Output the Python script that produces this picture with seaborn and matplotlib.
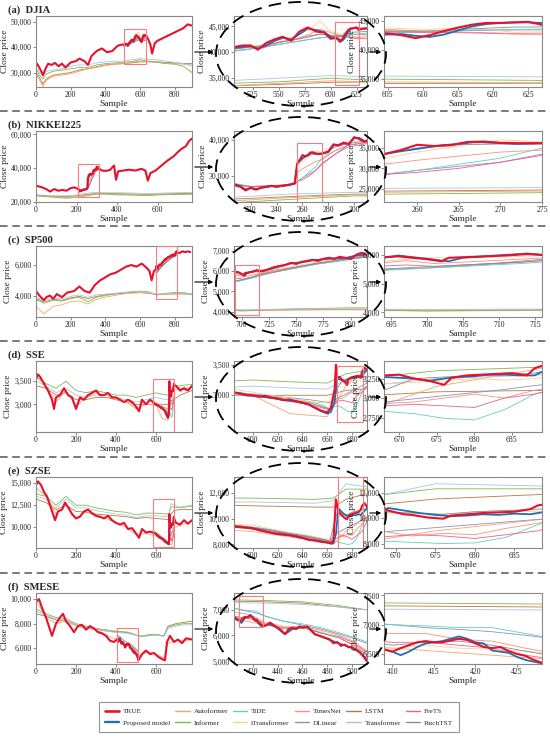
import matplotlib.pyplot as plt
import matplotlib.patches as mpatches
from matplotlib.lines import Line2D
from matplotlib.ticker import FuncFormatter
import seaborn as sns
import pandas as pd

sns.set_style('ticks')
plt.rcParams['font.family'] = 'serif'
plt.rcParams['font.serif'] = ['Liberation Serif', 'DejaVu Serif']

# ---------------- DATA ----------------
# (a) DJIA
dj_tx = [0, 15, 30, 40, 55, 70, 90, 110, 130, 150, 170, 200, 230, 250, 280, 300, 320, 350, 380, 410,
         440, 470, 490, 507, 515, 523, 530, 538, 546, 554, 562, 570, 578, 586, 594, 600, 605, 607, 609, 611,
         613, 615, 617, 619, 621, 623, 625, 627, 631, 635, 645, 660, 670, 685, 700, 730, 760, 790, 820, 850,
         875, 900]
dj_true = [34000, 32500, 30500, 29000, 31500, 33500, 33000, 33800, 32500, 33500, 32000, 34000, 34500, 35500, 34500, 33000, 36500, 38500, 39500, 38000,
           38500, 40500, 41000, 41000, 41300, 41300, 40500, 41800, 42500, 43000, 42200, 44000, 44800, 44000, 43800, 42600, 42800, 42500, 42000, 42500,
           43200, 43800, 44300, 44600, 44600, 44700, 44800, 44300, 44600, 44600, 43500, 41000, 37500, 41500, 42500, 43500, 44500, 45500, 46500, 47500,
           49000, 48500]
dj_zx = [507, 515, 523, 530, 538, 546, 554, 562, 570, 578, 586, 594, 600, 605, 607, 609, 611, 613, 615, 617, 619, 621, 623, 625, 627, 631, 635]
dj_prop = [40800, 41000, 41200, 40700, 41300, 42200, 42800, 42500, 43500, 44600, 44300, 43900, 43000, 42600, 42700, 42400, 42200, 42600, 43300, 44000,
           44400, 44600, 44700, 44700, 44600, 44500, 44600]
dj_nx = [507, 520, 535, 550, 565, 580, 590, 600, 610, 617, 623, 635]
dj_tide = [40200, 40500, 41000, 41500, 42000, 42500, 42800, 43000, 43000, 43400, 43500, 43700]
dj_itrans = [41000, 41500, 41200, 42500, 43000, 44500, 46000, 44000, 43500, 43800, 43000, 43300]
dj_timesnet = [40800, 41000, 40800, 41800, 42500, 43500, 44500, 43800, 43200, 43000, 42800, 43000]
dj_dlinear = [40300, 40600, 41000, 41500, 42000, 42500, 42800, 43000, 43100, 43300, 43400, 43500]
dj_frets = [41000, 41200, 41000, 42000, 42400, 43000, 43500, 43200, 43000, 42900, 42700, 42600]
dj_patch = [40600, 40900, 41300, 41900, 42400, 43200, 43500, 43300, 43200, 43600, 43900, 44000]
dj_fx = [0, 20, 40, 60, 100, 150, 200, 250, 300, 350, 400, 450, 500, 550, 600, 650, 700, 750, 800, 850, 900]
dj_informer = [31500, 29000, 27500, 29500, 30500, 31000, 31500, 32000, 32000, 33000, 33500, 33800, 34000, 34300, 35000, 34500, 34000, 33500, 33300, 32500, 30000]
dj_transformer = [32000, 30000, 28500, 30500, 31000, 31500, 32500, 33000, 33000, 33800, 34200, 34500, 34500, 35000, 35500, 35200, 35000, 34500, 34000, 33500, 32500]
dj_autoformer = [29500, 27000, 24500, 27000, 28500, 29000, 29500, 30500, 31500, 32000, 32800, 33300, 33500, 34000, 34500, 34200, 34000, 33700, 33500, 33300, 33000]
dj_lstm = [30000, 28000, 25500, 27500, 29000, 29500, 30000, 31000, 31500, 32300, 33000, 33300, 33500, 33800, 34200, 34300, 34200, 34000, 33800, 33600, 33500]

# (b) NIKKEI225
nk_tx = [0, 15, 30, 50, 70, 90, 110, 130, 150, 170, 190, 207, 212, 216, 220, 224, 228, 232, 236, 240,
         244, 248, 252, 254, 256, 258, 260, 262, 264, 266, 268, 270, 272, 275, 280, 284, 288, 292, 296, 300,
         304, 308, 310, 325, 345, 365, 385, 395, 405, 430, 460, 490, 520, 540, 552, 565, 590, 620, 650, 680,
         700, 720, 740, 755, 770]
nk_true = [29500, 29000, 28500, 27500, 26000, 27500, 26500, 27000, 26500, 28000, 28500, 27500, 27000, 26000, 26800, 26200, 26800, 27000, 27300, 27000,
           27300, 27500, 27800, 28000, 33500, 34500, 35800, 35500, 35700, 36500, 36600, 36300, 36200, 36200, 36800, 38800, 38500, 39300, 38800, 40800,
           40300, 39500, 39800, 38500, 38300, 38800, 41500, 33000, 38000, 38500, 39000, 38500, 39500, 38500, 32500, 37000, 38500, 41500, 44500, 47000,
           49500, 51500, 53000, 56000, 57500]
nk_zx = [207, 212, 216, 220, 224, 228, 232, 236, 240, 244, 248, 252, 254, 256, 258, 260, 263, 265, 267, 269, 272, 275, 280, 284, 288, 292, 296, 300, 304, 308, 310]
nk_prop = [27800, 27200, 26300, 26600, 26400, 26700, 27000, 27200, 27100, 27200, 27400, 27700, 27900, 33500, 34200, 34800, 35700, 36000, 36500, 36300,
           36000, 36200, 36600, 38500, 38700, 39100, 39000, 40500, 40600, 39700, 39800]
nk_nx = [207, 220, 235, 250, 254, 256, 260, 265, 270, 275, 285, 295, 310]
nk_tide = [27800, 27000, 27200, 27500, 27800, 28500, 29500, 31000, 32500, 35000, 37000, 38500, 39500]
nk_itrans = [28000, 27200, 27400, 27700, 28000, 32500, 34000, 35500, 37000, 36500, 38000, 39500, 40000]
nk_timesnet = [27900, 27100, 27300, 27600, 27900, 31000, 32000, 33000, 34000, 34500, 37000, 38500, 39500]
nk_dlinear = [27700, 27000, 27200, 27500, 27700, 28500, 29500, 30500, 31500, 33500, 36000, 38000, 39000]
nk_frets = [27800, 27000, 27200, 27500, 27800, 28500, 29000, 30000, 31500, 33200, 36000, 38500, 39300]
nk_patch = [27800, 27100, 27300, 27600, 27900, 33500, 35000, 35800, 36000, 36000, 38000, 39000, 39800]
nk_fx = [0, 50, 100, 150, 200, 250, 300, 350, 400, 450, 500, 550, 600, 650, 700, 770]
nk_informer = [23500, 23000, 22500, 22000, 22500, 23500, 24500, 24500, 24000, 24000, 23800, 23500, 24000, 24200, 24300, 24500]
nk_transformer = [24000, 23800, 23500, 23500, 24000, 25000, 25500, 25300, 25300, 25200, 25000, 24800, 25000, 25200, 25300, 25500]
nk_autoformer = [23500, 23000, 22800, 22500, 23000, 24000, 24800, 24500, 24500, 24300, 24000, 24000, 24200, 24300, 24400, 24500]
nk_lstm = [24000, 23500, 23200, 23000, 23500, 24300, 25000, 24800, 24800, 24600, 24500, 24300, 24500, 24600, 24800, 25000]

# (c) SP500
sp_tx = [0, 20, 45, 60, 80, 100, 120, 150, 180, 220, 250, 280, 310, 340, 370, 400, 430, 460, 490, 520,
         550, 580, 610, 640, 655, 667, 680, 690, 693, 694, 696, 698, 700, 702, 703, 705, 708, 711, 714, 716,
         720, 725, 730, 735, 740, 745, 750, 755, 760, 765, 770, 775, 780, 785, 790, 795, 800, 805, 810, 815,
         830, 845, 860, 875, 890]
sp_true = [4300, 4000, 3700, 3900, 4000, 3800, 4100, 3900, 4200, 4300, 4600, 4300, 4200, 4700, 5000, 5200, 5400, 5500, 5700, 5900,
           6000, 5900, 6100, 5800, 5600, 5000, 5600, 5700, 5800, 5920, 5950, 5900, 5850, 5780, 5900, 5920, 5950, 5980, 6030, 6000,
           6000, 6100, 6200, 6250, 6300, 6400, 6350, 6450, 6500, 6550, 6500, 6600, 6650, 6600, 6700, 6650, 6600, 6800, 6900, 6800,
           6800, 6900, 6850, 6900, 6850]
sp_zx = [693, 694, 696, 698, 700, 702, 703, 705, 708, 711, 714, 716, 725, 735, 745, 755, 765, 775, 785, 795, 805, 815]
sp_prop = [5750, 5900, 5980, 5920, 5870, 5800, 5780, 5900, 5950, 6000, 6050, 6000, 6080, 6230, 6380, 6430, 6530, 6580, 6620, 6640, 6760, 6820]
sp_nx = [693, 697, 701, 705, 709, 713, 716, 730, 750, 770, 790, 815]
sp_tide = [5450, 5500, 5550, 5600, 5650, 5700, 5750, 5950, 6150, 6350, 6500, 6700]
sp_itrans = [5750, 5850, 5900, 5900, 5920, 5950, 5980, 6100, 6250, 6450, 6600, 6750]
sp_timesnet = [5700, 5800, 5700, 5750, 5800, 5850, 5900, 6050, 6200, 6400, 6550, 6750]
sp_dlinear = [5480, 5520, 5560, 5620, 5680, 5740, 5800, 5950, 6150, 6350, 6500, 6700]
sp_frets = [5600, 5650, 5600, 5650, 5700, 5750, 5800, 5950, 6200, 6400, 6550, 6700]
sp_patch = [5500, 5550, 5600, 5650, 5700, 5780, 5850, 6000, 6200, 6380, 6550, 6750]
sp_fx = [0, 45, 100, 150, 200, 250, 300, 350, 400, 450, 500, 550, 600, 650, 700, 750, 800, 850, 900]
sp_informer = [3750, 3500, 3700, 3650, 3800, 3900, 3600, 3900, 4000, 4100, 4200, 4250, 4300, 4250, 4050, 4150, 4200, 4200, 4100]
sp_transformer = [3900, 3700, 3850, 3800, 3950, 4050, 3900, 4050, 4100, 4150, 4200, 4250, 4250, 4200, 4100, 4150, 4150, 4150, 4100]
sp_autoformer = [3300, 2800, 3300, 3400, 3600, 3650, 3450, 3750, 3900, 4000, 4100, 4150, 4200, 4150, 4050, 4100, 4100, 4100, 4050]
sp_lstm = [3800, 3600, 3750, 3700, 3850, 3950, 3800, 3950, 4050, 4100, 4150, 4200, 4200, 4150, 4080, 4100, 4120, 4120, 4100]

# (d) SSE
se_tx = [0, 10, 20, 40, 60, 80, 90, 100, 120, 140, 160, 180, 200, 220, 240, 260, 280, 300, 320, 340,
         360, 380, 400, 420, 440, 460, 480, 500, 515, 530, 550, 570, 585, 590, 595, 600, 605, 610, 615, 620,
         625, 630, 635, 640, 645, 650, 655, 660, 663, 666, 667, 668, 670, 672, 674, 676, 677, 679, 681, 683,
         685, 687, 688, 690, 692, 700, 720, 740, 760, 780]
se_true = [3550, 3650, 3600, 3450, 3300, 3100, 2900, 3150, 3200, 3350, 3200, 3150, 2900, 3150, 3100, 3200, 3250, 3300, 3200, 3200,
           3250, 3150, 3150, 3100, 3050, 3100, 3050, 2950, 2850, 3100, 3000, 3100, 3050, 3030, 3000, 3000, 2980, 2990, 2960, 2950,
           2920, 2930, 2900, 2880, 2850, 2800, 2750, 2720, 2800, 3100, 3500, 3290, 3300, 3250, 3220, 3170, 3260, 3290, 3300, 3310,
           3320, 3290, 3380, 3450, 3420, 3400, 3300, 3350, 3300, 3400]
se_zx = [585, 595, 605, 615, 625, 635, 645, 655, 660, 663, 666, 668, 670, 672, 674, 676, 678, 680, 682, 684, 686, 688, 690, 692]
se_prop = [3040, 3000, 2980, 2960, 2920, 2900, 2850, 2740, 2700, 2730, 2900, 3270, 3260, 3250, 3220, 3250, 3270, 3280, 3300, 3300, 3290, 3290, 3380, 3420]
se_nx = [585, 600, 615, 630, 645, 655, 662, 668, 672, 676, 680, 684, 688, 692]
se_tide = [3050, 3000, 2980, 2950, 2900, 2850, 2780, 2830, 2800, 2740, 2720, 2850, 3050, 3150]
se_itrans = [3100, 3050, 3000, 2950, 2900, 2880, 2900, 3180, 3200, 3220, 3250, 3230, 3250, 3300]
se_timesnet = [3040, 3000, 2950, 2920, 2880, 2820, 2780, 2930, 2950, 3000, 3050, 3000, 3100, 3150]
se_dlinear = [3050, 3020, 2990, 2960, 2930, 2900, 2880, 2950, 2990, 3030, 3070, 3110, 3160, 3200]
se_frets = [3030, 2990, 2950, 2900, 2850, 2800, 2760, 2900, 2920, 2900, 2880, 3000, 3050, 3150]
se_patch = [3050, 3010, 2970, 2930, 2880, 2820, 2770, 3100, 3250, 3270, 3290, 3300, 3320, 3400]
se_fx = [0, 50, 100, 150, 200, 250, 300, 350, 400, 450, 500, 550, 600, 630, 660, 675, 690, 720, 750, 780]
se_informer = [3600, 3450, 3350, 3500, 3300, 3250, 3300, 3250, 3200, 3200, 3150, 3200, 3250, 3220, 3200, 3350, 3400, 3400, 3420, 3430]
se_transformer = [3500, 3400, 3250, 3350, 3200, 3150, 3200, 3200, 3150, 3100, 3050, 3100, 3150, 3120, 3100, 3250, 3300, 3350, 3350, 3380]
se_autoformer = [3600, 3400, 3050, 3300, 2950, 3150, 3250, 3200, 3100, 3050, 2900, 3000, 3000, 2700, 2650, 3150, 3400, 3350, 3300, 3400]
se_lstm = [3400, 3350, 3200, 3250, 3100, 3100, 3150, 3150, 3100, 3050, 3000, 3000, 3000, 3000, 3000, 3080, 3100, 3200, 3250, 3300]

# (e) SZSE
sz_tx = [0, 10, 25, 40, 55, 70, 85, 95, 110, 130, 145, 160, 180, 200, 220, 240, 260, 280, 300, 320,
         340, 360, 380, 400, 420, 440, 460, 480, 500, 515, 530, 550, 570, 585, 590, 595, 600, 605, 610, 615,
         620, 625, 630, 635, 640, 645, 650, 655, 660, 663, 665, 667, 669, 670, 671, 672, 674, 676, 677, 679,
         681, 683, 685, 687, 688, 690, 692, 700, 720, 740, 760, 780]
sz_true = [14800, 15200, 14800, 14000, 13500, 12500, 11500, 10800, 11800, 12000, 12800, 12300, 11500, 11000, 11200, 11800, 12000, 11600, 11300, 11200,
           11000, 11300, 10800, 10500, 10300, 10500, 9800, 9900, 9300, 8800, 9800, 9400, 9500, 9400, 9350, 9300, 9250, 9100, 9000, 8900,
           8800, 8750, 8700, 8600, 8500, 8350, 8300, 8200, 8150, 8100, 8300, 11500, 10600, 10450, 10300, 10250, 10050, 9950, 10200, 10300,
           10400, 10450, 10500, 10700, 11000, 11200, 10900, 10500, 10300, 10800, 10400, 10800]
sz_zx = [585, 595, 605, 615, 625, 635, 645, 655, 660, 663, 665, 667, 669, 671, 673, 675, 677, 679, 681, 683, 685, 687, 688, 690, 692]
sz_prop = [9350, 9300, 9150, 8900, 8800, 8650, 8400, 8250, 8150, 8050, 8100, 8800, 10800, 10600, 10400, 10250, 10150, 10200, 10300, 10250,
           10350, 10300, 10400, 10600, 10800]
sz_nx = [585, 600, 615, 630, 645, 655, 662, 668, 672, 676, 680, 684, 688, 692]
sz_tide = [9500, 9300, 9100, 8850, 8600, 8400, 8250, 8200, 8100, 8000, 8050, 8500, 9500, 10000]
sz_itrans = [9600, 9500, 9200, 8900, 8700, 8500, 8400, 10300, 10400, 10300, 10500, 10600, 10500, 10700]
sz_timesnet = [9400, 9250, 9000, 8800, 8500, 8300, 8200, 9000, 8600, 8800, 8700, 9200, 9600, 10200]
sz_dlinear = [9500, 9350, 9150, 8900, 8650, 8450, 8300, 8900, 9100, 9300, 9500, 9700, 9900, 10100]
sz_frets = [9450, 9300, 9050, 8800, 8550, 8350, 8200, 8500, 8700, 8600, 8400, 8700, 9000, 9800]
sz_patch = [9500, 9300, 9100, 8850, 8600, 8400, 8250, 10500, 10400, 10300, 10500, 10600, 10700, 10800]
sz_fx = [0, 50, 100, 150, 200, 250, 300, 350, 400, 450, 500, 550, 600, 650, 665, 675, 690, 720, 750, 780]
sz_informer = [13800, 13500, 12500, 13500, 12500, 12500, 12200, 12000, 11800, 11700, 11400, 11600, 11600, 11500, 11600, 12300, 12300, 12200, 12300, 12400]
sz_transformer = [13500, 13200, 12200, 13200, 12200, 12200, 11900, 11700, 11500, 11400, 11100, 11300, 11300, 11200, 11400, 12700, 12500, 12300, 12400, 12500]
sz_autoformer = [14500, 13500, 11500, 12500, 11000, 11800, 11200, 11000, 10500, 10000, 9200, 9300, 9000, 8300, 8000, 9000, 10000, 10200, 10500, 10700]
sz_lstm = [13200, 12800, 12000, 12500, 11800, 11700, 11500, 11400, 11300, 11200, 11000, 11100, 11000, 10900, 10900, 11500, 11900, 12000, 12000, 12000]

# (f) SMESE
sm_tx = [0, 15, 30, 50, 70, 80, 100, 120, 135, 150, 170, 190, 210, 230, 250, 270, 290, 310, 330, 350,
         370, 390, 405, 409, 410, 411, 412, 413, 414, 415, 416, 417, 418, 419, 420, 421, 422, 423, 424, 425,
         426, 427, 428, 431, 434, 437, 440, 443, 446, 449, 452, 455, 458, 461, 464, 467, 470, 473, 476, 479,
         482, 485, 488, 491, 494, 497, 500, 503, 506, 509, 512, 530, 550, 570, 590, 610, 630, 645, 655, 670,
         690, 710, 730, 750, 780]
sm_true = [9800, 10000, 9300, 8500, 7500, 7000, 8000, 8500, 8800, 8200, 7800, 7300, 7800, 7900, 7500, 7800, 7600, 7300, 7200, 7000,
           6600, 6500, 6700, 6580, 6540, 6600, 6650, 6700, 6720, 6700, 6700, 6730, 6760, 6740, 6680, 6620, 6600, 6620, 6550, 6500,
           6470, 6400, 6350, 6400, 6500, 6400, 6300, 6200, 6050, 6250, 6300, 6250, 6350, 6300, 6350, 6200, 6050, 6000, 5950, 5900,
           5850, 5700, 5750, 5600, 5650, 5550, 5550, 5450, 5350, 5200, 5000, 5500, 5800, 5500, 5600, 5300, 5100, 5000, 6500, 7000,
           6500, 6700, 6400, 6800, 6700]
sm_zx = [405, 409, 410, 411, 412, 413, 414, 415, 416, 417, 418, 419, 420, 421, 422, 423, 424, 425, 426, 427,
         428, 434, 440, 446, 452, 458, 464, 470, 476, 482, 488, 494, 500, 506, 512]
sm_prop = [6650, 6580, 6540, 6480, 6540, 6620, 6680, 6700, 6720, 6760, 6800, 6760, 6700, 6680, 6560, 6540, 6520, 6450, 6400, 6370,
           6340, 6450, 6280, 6050, 6250, 6300, 6330, 6050, 5950, 5830, 5720, 5620, 5520, 5380, 5050]
sm_nx = [405, 410, 414, 418, 422, 426, 430, 445, 460, 475, 490, 500, 512]
sm_tide = [7050, 7000, 6980, 6950, 6950, 6850, 6750, 6550, 6450, 6300, 6100, 5950, 5750]
sm_itrans = [6700, 6600, 6650, 6600, 6580, 6550, 6500, 6350, 6300, 6150, 5900, 5700, 5300]
sm_timesnet = [6900, 6850, 6850, 6750, 6720, 6600, 6500, 6350, 6350, 6200, 6000, 5800, 5400]
sm_dlinear = [7050, 7000, 6950, 6920, 6880, 6820, 6750, 6550, 6400, 6250, 6050, 5900, 5700]
sm_frets = [6750, 6700, 6700, 6650, 6600, 6480, 6400, 6300, 6300, 6100, 5950, 5750, 5350]
sm_patch = [6750, 6650, 6700, 6720, 6650, 6550, 6450, 6250, 6350, 6100, 5900, 5650, 5250]
sm_fx = [0, 50, 100, 150, 200, 250, 300, 350, 400, 430, 460, 490, 510, 530, 560, 600, 640, 660, 700, 740, 780]
sm_informer = [9200, 8800, 8500, 8400, 8000, 7800, 7600, 7500, 7380, 7350, 7300, 7150, 7000, 7000, 7100, 7100, 7000, 7700, 7900, 8000, 8000]
sm_transformer = [9000, 8700, 8400, 8300, 7900, 7700, 7500, 7400, 7270, 7250, 7200, 7100, 7000, 6950, 7050, 7050, 6950, 7600, 7800, 7900, 7900]
sm_autoformer = [9900, 8500, 8000, 8200, 7800, 7600, 7500, 7100, 6700, 6400, 6300, 5900, 5400, 5500, 5700, 5500, 5200, 6400, 6600, 6600, 6700]
sm_lstm = [8800, 8600, 8300, 8200, 7900, 7700, 7550, 7400, 7330, 7300, 7250, 7100, 7000, 6950, 7000, 7100, 7000, 7800, 8000, 8100, 8200]

MODELS = ['TRUE', 'Proposed model', 'Autoformer', 'Informer', 'TiDE', 'iTransformer',
          'TimesNet', 'DLinear', 'LSTM', 'Transformer', 'FreTS', 'PatchTST']
COLORS = {'TRUE': '#e8112d', 'Proposed model': '#1f6fb0', 'Autoformer': '#fca36a',
          'Informer': '#7cba50', 'TiDE': '#5fd3b5', 'iTransformer': '#fdcf8a',
          'TimesNet': '#f8927a', 'DLinear': '#8d8dc8', 'LSTM': '#b87a3f',
          'Transformer': '#a9c4e6', 'FreTS': '#f55c8a', 'PatchTST': '#8c8c8c'}
LW = {m: 0.6 for m in MODELS}
LW['TRUE'] = 1.5
LW['Proposed model'] = 1.3
DRAW_ORDER = ['LSTM', 'Autoformer', 'Informer', 'Transformer', 'DLinear', 'TiDE', 'TimesNet',
              'FreTS', 'iTransformer', 'PatchTST', 'Proposed model', 'TRUE']


def frame(tx, true, zx, prop, nx, near, fx, far):
    parts = [('TRUE', tx, true), ('Proposed model', zx, prop)]
    parts += [(m, nx, v) for m, v in near.items()]
    parts += [(m, fx, v) for m, v in far.items()]
    rows = []
    for m, xs, ys in parts:
        rows += [(m, a, b) for a, b in zip(xs, ys)]
    return pd.DataFrame(rows, columns=['model', 'sample', 'price'])


datasets = [
    ('(a)  DJIA', frame(dj_tx, dj_true, dj_zx, dj_prop, dj_nx,
                        {'TiDE': dj_tide, 'iTransformer': dj_itrans, 'TimesNet': dj_timesnet,
                         'DLinear': dj_dlinear, 'FreTS': dj_frets, 'PatchTST': dj_patch},
                        dj_fx, {'Informer': dj_informer, 'Transformer': dj_transformer,
                                'Autoformer': dj_autoformer, 'LSTM': dj_lstm}),
     [((0, 900), range(0, 801, 200), (24300, 52300), [30000, 40000, 50000]),
      ((507, 635), range(525, 626, 25), (33300, 47000), [35000, 40000, 45000]),
      ((604.5, 627), range(605, 626, 5), (33600, 45800), [35000, 40000, 45000])]),
    ('(b)  NIKKEI225', frame(nk_tx, nk_true, nk_zx, nk_prop, nk_nx,
                             {'TiDE': nk_tide, 'iTransformer': nk_itrans, 'TimesNet': nk_timesnet,
                              'DLinear': nk_dlinear, 'FreTS': nk_frets, 'PatchTST': nk_patch},
                             nk_fx, {'Informer': nk_informer, 'Transformer': nk_transformer,
                                     'Autoformer': nk_autoformer, 'LSTM': nk_lstm}),
     [((0, 770), range(0, 601, 200), (19800, 62000), [20000, 40000, 60000]),
      ((207, 310), range(220, 301, 20), (22800, 42500), [30000, 40000]),
      ((256, 275), range(260, 276, 5), (21700, 39200), [25000, 30000, 35000])]),
    ('(c)  SP500', frame(sp_tx, sp_true, sp_zx, sp_prop, sp_nx,
                         {'TiDE': sp_tide, 'iTransformer': sp_itrans, 'TimesNet': sp_timesnet,
                          'DLinear': sp_dlinear, 'FreTS': sp_frets, 'PatchTST': sp_patch},
                         sp_fx, {'Informer': sp_informer, 'Transformer': sp_transformer,
                                 'Autoformer': sp_autoformer, 'LSTM': sp_lstm}),
     [((0, 900), range(0, 801, 200), (2600, 7250), [4000, 6000]),
      ((693, 815), range(700, 801, 25), (3750, 7230), [4000, 5000, 6000, 7000]),
      ((694, 716), range(695, 716, 5), (3840, 6310), [4000, 5000, 6000])]),
    ('(d)  SSE', frame(se_tx, se_true, se_zx, se_prop, se_nx,
                       {'TiDE': se_tide, 'iTransformer': se_itrans, 'TimesNet': se_timesnet,
                        'DLinear': se_dlinear, 'FreTS': se_frets, 'PatchTST': se_patch},
                       se_fx, {'Informer': se_informer, 'Transformer': se_transformer,
                               'Autoformer': se_autoformer, 'LSTM': se_lstm}),
     [((0, 780), range(0, 601, 200), (2400, 3940), [3000, 3500]),
      ((585, 692), range(600, 681, 20), (2400, 3560), [3000, 3500]),
      ((668, 689), range(670, 686, 5), (2565, 3475), [2750, 3000, 3250])]),
    ('(e)  SZSE', frame(sz_tx, sz_true, sz_zx, sz_prop, sz_nx,
                        {'TiDE': sz_tide, 'iTransformer': sz_itrans, 'TimesNet': sz_timesnet,
                         'DLinear': sz_dlinear, 'FreTS': sz_frets, 'PatchTST': sz_patch},
                        sz_fx, {'Informer': sz_informer, 'Transformer': sz_transformer,
                                'Autoformer': sz_autoformer, 'LSTM': sz_lstm}),
     [((0, 780), range(0, 601, 200), (7650, 15700), [10000, 12500, 15000]),
      ((585, 692), range(600, 681, 20), (7720, 13240), [8000, 10000, 12000]),
      ((668.5, 688.5), range(670, 686, 5), (7650, 13230), [8000, 10000, 12000])]),
    ('(f)  SMESE', frame(sm_tx, sm_true, sm_zx, sm_prop, sm_nx,
                         {'TiDE': sm_tide, 'iTransformer': sm_itrans, 'TimesNet': sm_timesnet,
                          'DLinear': sm_dlinear, 'FreTS': sm_frets, 'PatchTST': sm_patch},
                         sm_fx, {'Informer': sm_informer, 'Transformer': sm_transformer,
                                 'Autoformer': sm_autoformer, 'LSTM': sm_lstm}),
     [((0, 780), range(0, 601, 200), (4700, 10500), [6000, 8000, 10000]),
      ((405, 512), range(420, 501, 20), (4900, 7640), [5000, 6000, 7000]),
      ((409, 428), range(410, 426, 5), (6330, 7540), [6500, 7000, 7500])]),
]

# ---------------- LAYOUT (pixels) ----------------
W, H = 550, 741
ROW_TOP = [16, 131, 246, 361, 477, 593]
AX_H = 71
PANEL_X = [(36, 156), (234, 133), (384, 158)]

fig = plt.figure(figsize=(W / 100, H / 100), dpi=100)
fmt = FuncFormatter(lambda v, p: f'{v:,.0f}')


def fx_(px):
    return px / W


def fy_(py):
    return 1 - py / H


for i, (title, df, lims) in enumerate(datasets):
    top = ROW_TOP[i]
    axes = []
    for (x0, w), (xl, xt, yl, yt) in zip(PANEL_X, lims):
        ax = fig.add_axes([fx_(x0), fy_(top + AX_H), w / W, AX_H / H])
        sns.lineplot(data=df, x='sample', y='price', hue='model', size='model',
                     hue_order=DRAW_ORDER, size_order=DRAW_ORDER, palette=COLORS,
                     sizes=LW, estimator=None, legend=False, ax=ax)
        ax.set_xlim(*xl)
        ax.set_ylim(*yl)
        ax.set_xticks(list(xt))
        ax.set_yticks(yt)
        ax.yaxis.set_major_formatter(fmt)
        ax.tick_params(labelsize=5.6, length=2, width=0.6, color='#777777', pad=1.2)
        ax.set_xlabel('Sample', fontsize=6.8, labelpad=0.5)
        ax.set_ylabel('Close price', fontsize=6.8, labelpad=1.5)
        for s in ax.spines.values():
            s.set_color('#888888')
            s.set_linewidth(0.8)
        axes.append(ax)

    # zoom rectangles
    for a, (xl, _, yl, _) in zip(axes[:2], lims[1:]):
        a.add_patch(mpatches.Rectangle((xl[0], yl[0]), xl[1] - xl[0], yl[1] - yl[0],
                                       fill=False, ec='#ff7b7b', lw=0.8, zorder=5))

    fig.text(fx_(8), fy_(top - 6), title, fontsize=7.6, fontweight='bold', va='center', ha='left')

    # dashed ellipse around the middle panel
    fig.add_artist(mpatches.Ellipse((fx_(301), fy_(top + 38)), 170 / W, 104 / H,
                                    transform=fig.transFigure, fill=False, ec='black',
                                    lw=1.3, ls=(0, (7, 4)), zorder=10))
    ya = fy_(top + 36)
    for xa, xb in [(192, 216), (367, 384)]:
        fig.add_artist(mpatches.FancyArrowPatch((fx_(xa), ya), (fx_(xb), ya), transform=fig.transFigure,
                                                arrowstyle='-|>', mutation_scale=6, color='black',
                                                lw=0.8, zorder=10))
    if i > 0:
        yl_ = fy_(top - 20)
        fig.add_artist(Line2D([0, 1], [yl_, yl_], transform=fig.transFigure, color='#555555',
                              lw=1.1, ls=(0, (5, 3))))

handles = [Line2D([], [], color=COLORS[m], lw=LW[m] + 0.4) for m in MODELS]
leg = fig.legend(handles, MODELS, loc='center', bbox_to_anchor=(fx_(279), fy_(717)), ncol=6,
                 fontsize=5.2, frameon=True, fancybox=False, edgecolor='#777777',
                 handlelength=2.0, columnspacing=0.7, handletextpad=0.5, borderpad=0.9, labelspacing=0.8)
leg.get_frame().set_linewidth(0.8)

fig.savefig('out.png', dpi=100)
